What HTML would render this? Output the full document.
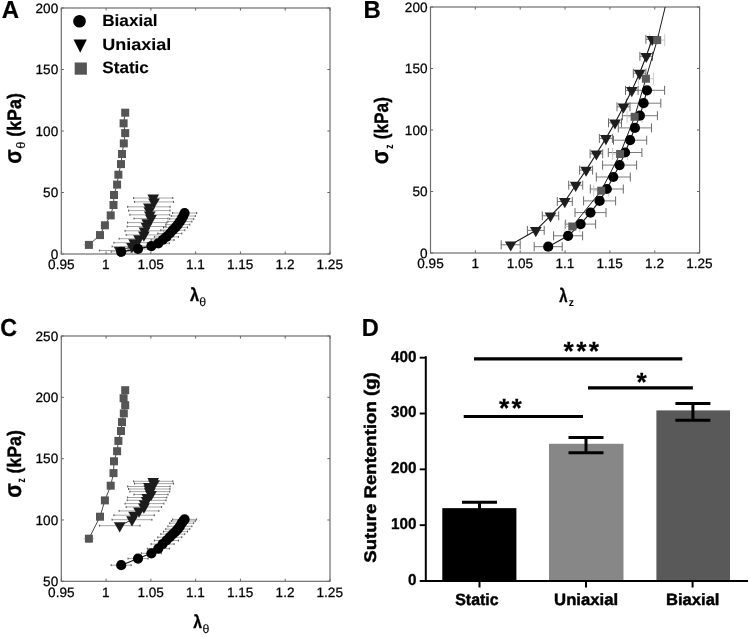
<!DOCTYPE html>
<html><head><meta charset="utf-8"><style>
html,body{margin:0;padding:0;background:#fff;width:750px;height:638px;overflow:hidden}
svg{display:block;font-family:"Liberation Sans", sans-serif;will-change:transform}
text{font-family:"Liberation Sans", sans-serif;text-rendering:geometricPrecision}
</style></head><body>
<svg width="750" height="638" viewBox="0 0 750 638">
<rect width="750" height="638" fill="#fff"/>
<rect x="61.30" y="8.00" width="268.70" height="246.00" fill="none" stroke="#6e6e6e" stroke-width="1.2"/>
<line x1="61.30" y1="254.00" x2="61.30" y2="251.40" stroke="#666" stroke-width="1" />
<line x1="61.30" y1="8.00" x2="61.30" y2="10.60" stroke="#666" stroke-width="1" />
<text x="48.085" y="269.400" font-size="13.6" textLength="26.470" lengthAdjust="spacingAndGlyphs" fill="#000" stroke="#000" stroke-width="0.25" stroke-linejoin="round">0.95</text>
<line x1="106.08" y1="254.00" x2="106.08" y2="251.40" stroke="#666" stroke-width="1" />
<line x1="106.08" y1="8.00" x2="106.08" y2="10.60" stroke="#666" stroke-width="1" />
<text x="102.116" y="269.400" font-size="13.6" textLength="7.564" lengthAdjust="spacingAndGlyphs" fill="#000" stroke="#000" stroke-width="0.25" stroke-linejoin="round">1</text>
<line x1="150.87" y1="254.00" x2="150.87" y2="251.40" stroke="#666" stroke-width="1" />
<line x1="150.87" y1="8.00" x2="150.87" y2="10.60" stroke="#666" stroke-width="1" />
<text x="137.399" y="269.400" font-size="13.6" textLength="26.470" lengthAdjust="spacingAndGlyphs" fill="#000" stroke="#000" stroke-width="0.25" stroke-linejoin="round">1.05</text>
<line x1="195.65" y1="254.00" x2="195.65" y2="251.40" stroke="#666" stroke-width="1" />
<line x1="195.65" y1="8.00" x2="195.65" y2="10.60" stroke="#666" stroke-width="1" />
<text x="186.011" y="269.400" font-size="13.6" textLength="18.906" lengthAdjust="spacingAndGlyphs" fill="#000" stroke="#000" stroke-width="0.25" stroke-linejoin="round">1.1</text>
<line x1="240.43" y1="254.00" x2="240.43" y2="251.40" stroke="#666" stroke-width="1" />
<line x1="240.43" y1="8.00" x2="240.43" y2="10.60" stroke="#666" stroke-width="1" />
<text x="226.966" y="269.400" font-size="13.6" textLength="26.470" lengthAdjust="spacingAndGlyphs" fill="#000" stroke="#000" stroke-width="0.25" stroke-linejoin="round">1.15</text>
<line x1="285.22" y1="254.00" x2="285.22" y2="251.40" stroke="#666" stroke-width="1" />
<line x1="285.22" y1="8.00" x2="285.22" y2="10.60" stroke="#666" stroke-width="1" />
<text x="275.588" y="269.400" font-size="13.6" textLength="18.906" lengthAdjust="spacingAndGlyphs" fill="#000" stroke="#000" stroke-width="0.25" stroke-linejoin="round">1.2</text>
<line x1="330.00" y1="254.00" x2="330.00" y2="251.40" stroke="#666" stroke-width="1" />
<line x1="330.00" y1="8.00" x2="330.00" y2="10.60" stroke="#666" stroke-width="1" />
<text x="316.533" y="269.400" font-size="13.6" textLength="26.470" lengthAdjust="spacingAndGlyphs" fill="#000" stroke="#000" stroke-width="0.25" stroke-linejoin="round">1.25</text>
<line x1="61.30" y1="254.00" x2="63.90" y2="254.00" stroke="#666" stroke-width="1" />
<line x1="330.00" y1="254.00" x2="327.40" y2="254.00" stroke="#666" stroke-width="1" />
<text x="50.668" y="258.750" font-size="13.6" textLength="7.564" lengthAdjust="spacingAndGlyphs" fill="#000" stroke="#000" stroke-width="0.25" stroke-linejoin="round">0</text>
<line x1="61.30" y1="192.50" x2="63.90" y2="192.50" stroke="#666" stroke-width="1" />
<line x1="330.00" y1="192.50" x2="327.40" y2="192.50" stroke="#666" stroke-width="1" />
<text x="43.104" y="197.250" font-size="13.6" textLength="15.127" lengthAdjust="spacingAndGlyphs" fill="#000" stroke="#000" stroke-width="0.25" stroke-linejoin="round">50</text>
<line x1="61.30" y1="131.00" x2="63.90" y2="131.00" stroke="#666" stroke-width="1" />
<line x1="330.00" y1="131.00" x2="327.40" y2="131.00" stroke="#666" stroke-width="1" />
<text x="35.540" y="135.750" font-size="13.6" textLength="22.691" lengthAdjust="spacingAndGlyphs" fill="#000" stroke="#000" stroke-width="0.25" stroke-linejoin="round">100</text>
<line x1="61.30" y1="69.50" x2="63.90" y2="69.50" stroke="#666" stroke-width="1" />
<line x1="330.00" y1="69.50" x2="327.40" y2="69.50" stroke="#666" stroke-width="1" />
<text x="35.540" y="74.250" font-size="13.6" textLength="22.691" lengthAdjust="spacingAndGlyphs" fill="#000" stroke="#000" stroke-width="0.25" stroke-linejoin="round">150</text>
<line x1="61.30" y1="8.00" x2="63.90" y2="8.00" stroke="#666" stroke-width="1" />
<line x1="330.00" y1="8.00" x2="327.40" y2="8.00" stroke="#666" stroke-width="1" />
<text x="35.540" y="12.750" font-size="13.6" textLength="22.691" lengthAdjust="spacingAndGlyphs" fill="#000" stroke="#000" stroke-width="0.25" stroke-linejoin="round">200</text>
<line x1="83.40" y1="244.90" x2="94.40" y2="244.90" stroke="#c4c4c4" stroke-width="0.8" />
<line x1="133.60" y1="198.00" x2="172.80" y2="198.00" stroke="#9a9a9a" stroke-width="0.9" />
<line x1="133.60" y1="197.00" x2="133.60" y2="199.00" stroke="#444" stroke-width="0.9" />
<line x1="172.80" y1="197.00" x2="172.80" y2="199.00" stroke="#444" stroke-width="0.9" />
<line x1="134.50" y1="201.90" x2="173.50" y2="201.90" stroke="#9a9a9a" stroke-width="0.9" />
<line x1="134.50" y1="200.90" x2="134.50" y2="202.90" stroke="#444" stroke-width="0.9" />
<line x1="173.50" y1="200.90" x2="173.50" y2="202.90" stroke="#444" stroke-width="0.9" />
<line x1="127.70" y1="206.80" x2="170.10" y2="206.80" stroke="#9a9a9a" stroke-width="0.9" />
<line x1="127.70" y1="205.80" x2="127.70" y2="207.80" stroke="#444" stroke-width="0.9" />
<line x1="170.10" y1="205.80" x2="170.10" y2="207.80" stroke="#444" stroke-width="0.9" />
<line x1="128.60" y1="210.60" x2="170.00" y2="210.60" stroke="#9a9a9a" stroke-width="0.9" />
<line x1="128.60" y1="209.60" x2="128.60" y2="211.60" stroke="#444" stroke-width="0.9" />
<line x1="170.00" y1="209.60" x2="170.00" y2="211.60" stroke="#444" stroke-width="0.9" />
<line x1="129.90" y1="214.80" x2="169.70" y2="214.80" stroke="#9a9a9a" stroke-width="0.9" />
<line x1="129.90" y1="213.80" x2="129.90" y2="215.80" stroke="#444" stroke-width="0.9" />
<line x1="169.70" y1="213.80" x2="169.70" y2="215.80" stroke="#444" stroke-width="0.9" />
<line x1="134.00" y1="218.50" x2="168.00" y2="218.50" stroke="#9a9a9a" stroke-width="0.9" />
<line x1="134.00" y1="217.50" x2="134.00" y2="219.50" stroke="#444" stroke-width="0.9" />
<line x1="168.00" y1="217.50" x2="168.00" y2="219.50" stroke="#444" stroke-width="0.9" />
<line x1="127.60" y1="222.60" x2="166.80" y2="222.60" stroke="#9a9a9a" stroke-width="0.9" />
<line x1="127.60" y1="221.60" x2="127.60" y2="223.60" stroke="#444" stroke-width="0.9" />
<line x1="166.80" y1="221.60" x2="166.80" y2="223.60" stroke="#444" stroke-width="0.9" />
<line x1="127.20" y1="226.50" x2="166.00" y2="226.50" stroke="#9a9a9a" stroke-width="0.9" />
<line x1="127.20" y1="225.50" x2="127.20" y2="227.50" stroke="#444" stroke-width="0.9" />
<line x1="166.00" y1="225.50" x2="166.00" y2="227.50" stroke="#444" stroke-width="0.9" />
<line x1="125.10" y1="230.80" x2="163.90" y2="230.80" stroke="#9a9a9a" stroke-width="0.9" />
<line x1="125.10" y1="229.80" x2="125.10" y2="231.80" stroke="#444" stroke-width="0.9" />
<line x1="163.90" y1="229.80" x2="163.90" y2="231.80" stroke="#444" stroke-width="0.9" />
<line x1="126.20" y1="234.90" x2="161.60" y2="234.90" stroke="#9a9a9a" stroke-width="0.9" />
<line x1="126.20" y1="233.90" x2="126.20" y2="235.90" stroke="#444" stroke-width="0.9" />
<line x1="161.60" y1="233.90" x2="161.60" y2="235.90" stroke="#444" stroke-width="0.9" />
<line x1="119.10" y1="238.70" x2="158.90" y2="238.70" stroke="#9a9a9a" stroke-width="0.9" />
<line x1="119.10" y1="237.70" x2="119.10" y2="239.70" stroke="#444" stroke-width="0.9" />
<line x1="158.90" y1="237.70" x2="158.90" y2="239.70" stroke="#444" stroke-width="0.9" />
<line x1="113.90" y1="242.70" x2="154.30" y2="242.70" stroke="#9a9a9a" stroke-width="0.9" />
<line x1="113.90" y1="241.70" x2="113.90" y2="243.70" stroke="#444" stroke-width="0.9" />
<line x1="154.30" y1="241.70" x2="154.30" y2="243.70" stroke="#444" stroke-width="0.9" />
<line x1="112.10" y1="246.50" x2="151.90" y2="246.50" stroke="#9a9a9a" stroke-width="0.9" />
<line x1="112.10" y1="245.50" x2="112.10" y2="247.50" stroke="#444" stroke-width="0.9" />
<line x1="151.90" y1="245.50" x2="151.90" y2="247.50" stroke="#444" stroke-width="0.9" />
<line x1="99.40" y1="250.50" x2="140.00" y2="250.50" stroke="#9a9a9a" stroke-width="0.9" />
<line x1="99.40" y1="249.50" x2="99.40" y2="251.50" stroke="#444" stroke-width="0.9" />
<line x1="140.00" y1="249.50" x2="140.00" y2="251.50" stroke="#444" stroke-width="0.9" />
<line x1="111.20" y1="251.80" x2="131.20" y2="251.80" stroke="#9a9a9a" stroke-width="0.9" />
<line x1="111.20" y1="250.80" x2="111.20" y2="252.80" stroke="#444" stroke-width="0.9" />
<line x1="131.20" y1="250.80" x2="131.20" y2="252.80" stroke="#444" stroke-width="0.9" />
<line x1="128.00" y1="248.90" x2="148.00" y2="248.90" stroke="#9a9a9a" stroke-width="0.9" />
<line x1="128.00" y1="247.90" x2="128.00" y2="249.90" stroke="#444" stroke-width="0.9" />
<line x1="148.00" y1="247.90" x2="148.00" y2="249.90" stroke="#444" stroke-width="0.9" />
<line x1="141.40" y1="246.10" x2="161.40" y2="246.10" stroke="#9a9a9a" stroke-width="0.9" />
<line x1="141.40" y1="245.10" x2="141.40" y2="247.10" stroke="#444" stroke-width="0.9" />
<line x1="161.40" y1="245.10" x2="161.40" y2="247.10" stroke="#444" stroke-width="0.9" />
<line x1="147.30" y1="243.30" x2="169.30" y2="243.30" stroke="#9a9a9a" stroke-width="0.9" />
<line x1="147.30" y1="242.30" x2="147.30" y2="244.30" stroke="#444" stroke-width="0.9" />
<line x1="169.30" y1="242.30" x2="169.30" y2="244.30" stroke="#444" stroke-width="0.9" />
<line x1="151.10" y1="240.00" x2="174.10" y2="240.00" stroke="#9a9a9a" stroke-width="0.9" />
<line x1="151.10" y1="239.00" x2="151.10" y2="241.00" stroke="#444" stroke-width="0.9" />
<line x1="174.10" y1="239.00" x2="174.10" y2="241.00" stroke="#444" stroke-width="0.9" />
<line x1="154.40" y1="236.90" x2="178.40" y2="236.90" stroke="#9a9a9a" stroke-width="0.9" />
<line x1="154.40" y1="235.90" x2="154.40" y2="237.90" stroke="#444" stroke-width="0.9" />
<line x1="178.40" y1="235.90" x2="178.40" y2="237.90" stroke="#444" stroke-width="0.9" />
<line x1="157.80" y1="233.50" x2="181.80" y2="233.50" stroke="#9a9a9a" stroke-width="0.9" />
<line x1="157.80" y1="232.50" x2="157.80" y2="234.50" stroke="#444" stroke-width="0.9" />
<line x1="181.80" y1="232.50" x2="181.80" y2="234.50" stroke="#444" stroke-width="0.9" />
<line x1="160.80" y1="230.20" x2="184.80" y2="230.20" stroke="#9a9a9a" stroke-width="0.9" />
<line x1="160.80" y1="229.20" x2="160.80" y2="231.20" stroke="#444" stroke-width="0.9" />
<line x1="184.80" y1="229.20" x2="184.80" y2="231.20" stroke="#444" stroke-width="0.9" />
<line x1="163.50" y1="227.40" x2="187.50" y2="227.40" stroke="#9a9a9a" stroke-width="0.9" />
<line x1="163.50" y1="226.40" x2="163.50" y2="228.40" stroke="#444" stroke-width="0.9" />
<line x1="187.50" y1="226.40" x2="187.50" y2="228.40" stroke="#444" stroke-width="0.9" />
<line x1="165.80" y1="224.60" x2="189.80" y2="224.60" stroke="#9a9a9a" stroke-width="0.9" />
<line x1="165.80" y1="223.60" x2="165.80" y2="225.60" stroke="#444" stroke-width="0.9" />
<line x1="189.80" y1="223.60" x2="189.80" y2="225.60" stroke="#444" stroke-width="0.9" />
<line x1="167.90" y1="221.60" x2="191.90" y2="221.60" stroke="#9a9a9a" stroke-width="0.9" />
<line x1="167.90" y1="220.60" x2="167.90" y2="222.60" stroke="#444" stroke-width="0.9" />
<line x1="191.90" y1="220.60" x2="191.90" y2="222.60" stroke="#444" stroke-width="0.9" />
<line x1="169.70" y1="218.90" x2="193.70" y2="218.90" stroke="#9a9a9a" stroke-width="0.9" />
<line x1="169.70" y1="217.90" x2="169.70" y2="219.90" stroke="#444" stroke-width="0.9" />
<line x1="193.70" y1="217.90" x2="193.70" y2="219.90" stroke="#444" stroke-width="0.9" />
<line x1="171.30" y1="216.00" x2="195.30" y2="216.00" stroke="#9a9a9a" stroke-width="0.9" />
<line x1="171.30" y1="215.00" x2="171.30" y2="217.00" stroke="#444" stroke-width="0.9" />
<line x1="195.30" y1="215.00" x2="195.30" y2="217.00" stroke="#444" stroke-width="0.9" />
<line x1="172.60" y1="213.00" x2="196.60" y2="213.00" stroke="#9a9a9a" stroke-width="0.9" />
<line x1="172.60" y1="212.00" x2="172.60" y2="214.00" stroke="#444" stroke-width="0.9" />
<line x1="196.60" y1="212.00" x2="196.60" y2="214.00" stroke="#444" stroke-width="0.9" />
<polyline points="125.20,112.70 123.60,123.30 125.20,133.10 123.80,143.40 122.00,154.00 121.00,164.10 118.40,174.70 117.10,184.60 114.00,195.00 113.50,205.00 110.70,215.40 104.90,225.30 100.00,235.10 88.90,244.90" fill="none" stroke="#333" stroke-width="0.9" stroke-linejoin="round"/>
<polyline points="153.20,198.00 154.00,201.90 148.90,206.80 149.30,210.60 149.80,214.80 151.00,218.50 147.20,222.60 146.60,226.50 144.50,230.80 143.90,234.90 139.00,238.70 134.10,242.70 132.00,246.50 119.70,250.50" fill="none" stroke="#222" stroke-width="0.9" stroke-linejoin="round"/>
<polyline points="121.20,251.80 138.00,248.90 151.40,246.10 158.30,243.30 162.60,240.00 166.40,236.90 169.80,233.50 172.80,230.20 175.50,227.40 177.80,224.60 179.90,221.60 181.70,218.90 183.30,216.00 184.60,213.00" fill="none" stroke="#111" stroke-width="1.1" stroke-linejoin="round"/>
<rect x="121.20" y="108.70" width="8" height="8" fill="#555"/>
<rect x="119.60" y="119.30" width="8" height="8" fill="#555"/>
<rect x="121.20" y="129.10" width="8" height="8" fill="#555"/>
<rect x="119.80" y="139.40" width="8" height="8" fill="#555"/>
<rect x="118.00" y="150.00" width="8" height="8" fill="#555"/>
<rect x="117.00" y="160.10" width="8" height="8" fill="#555"/>
<rect x="114.40" y="170.70" width="8" height="8" fill="#555"/>
<rect x="113.10" y="180.60" width="8" height="8" fill="#555"/>
<rect x="110.00" y="191.00" width="8" height="8" fill="#555"/>
<rect x="109.50" y="201.00" width="8" height="8" fill="#555"/>
<rect x="106.70" y="211.40" width="8" height="8" fill="#555"/>
<rect x="100.90" y="221.30" width="8" height="8" fill="#555"/>
<rect x="96.00" y="231.10" width="8" height="8" fill="#555"/>
<rect x="84.90" y="240.90" width="8" height="8" fill="#555"/>
<path d="M147.35,194.62L159.05,194.62L153.20,204.75Z" fill="#1c1c1c"/>
<path d="M148.15,198.52L159.85,198.52L154.00,208.65Z" fill="#1c1c1c"/>
<path d="M143.05,203.42L154.75,203.42L148.90,213.55Z" fill="#1c1c1c"/>
<path d="M143.45,207.22L155.15,207.22L149.30,217.35Z" fill="#1c1c1c"/>
<path d="M143.95,211.42L155.65,211.42L149.80,221.55Z" fill="#1c1c1c"/>
<path d="M145.15,215.12L156.85,215.12L151.00,225.25Z" fill="#1c1c1c"/>
<path d="M141.35,219.22L153.05,219.22L147.20,229.35Z" fill="#1c1c1c"/>
<path d="M140.75,223.12L152.45,223.12L146.60,233.25Z" fill="#1c1c1c"/>
<path d="M138.65,227.42L150.35,227.42L144.50,237.55Z" fill="#1c1c1c"/>
<path d="M138.05,231.52L149.75,231.52L143.90,241.65Z" fill="#1c1c1c"/>
<path d="M133.15,235.32L144.85,235.32L139.00,245.45Z" fill="#1c1c1c"/>
<path d="M128.25,239.32L139.95,239.32L134.10,249.45Z" fill="#1c1c1c"/>
<path d="M126.15,243.12L137.85,243.12L132.00,253.25Z" fill="#1c1c1c"/>
<path d="M113.85,247.12L125.55,247.12L119.70,257.25Z" fill="#1c1c1c"/>
<circle cx="121.20" cy="251.80" r="5.1" fill="#000"/>
<circle cx="138.00" cy="248.90" r="5.1" fill="#000"/>
<circle cx="151.40" cy="246.10" r="5.1" fill="#000"/>
<circle cx="158.30" cy="243.30" r="5.1" fill="#000"/>
<circle cx="162.60" cy="240.00" r="5.1" fill="#000"/>
<circle cx="166.40" cy="236.90" r="5.1" fill="#000"/>
<circle cx="169.80" cy="233.50" r="5.1" fill="#000"/>
<circle cx="172.80" cy="230.20" r="5.1" fill="#000"/>
<circle cx="175.50" cy="227.40" r="5.1" fill="#000"/>
<circle cx="177.80" cy="224.60" r="5.1" fill="#000"/>
<circle cx="179.90" cy="221.60" r="5.1" fill="#000"/>
<circle cx="181.70" cy="218.90" r="5.1" fill="#000"/>
<circle cx="183.30" cy="216.00" r="5.1" fill="#000"/>
<circle cx="184.60" cy="213.00" r="5.1" fill="#000"/>
<circle cx="79.50" cy="21.20" r="6.3" fill="#000"/>
<path d="M73.55,39.57L86.85,39.57L80.20,52.87Z" fill="#000"/>
<rect x="74.70" y="62.50" width="12.2" height="12.2" fill="#555"/>
<text x="102.149" y="26.300" font-size="16.4" font-weight="bold" textLength="55.469" lengthAdjust="spacingAndGlyphs" fill="#000" stroke="#000" stroke-width="0.10" stroke-linejoin="round">Biaxial</text>
<text x="102.219" y="50.300" font-size="16.4" font-weight="bold" textLength="69.056" lengthAdjust="spacingAndGlyphs" fill="#000" stroke="#000" stroke-width="0.10" stroke-linejoin="round">Uniaxial</text>
<text x="102.307" y="73.200" font-size="16.4" font-weight="bold" textLength="46.594" lengthAdjust="spacingAndGlyphs" fill="#000" stroke="#000" stroke-width="0.10" stroke-linejoin="round">Static</text>
<text x="1.802" y="18.400" font-size="24.6" font-weight="bold" textLength="17.330" lengthAdjust="spacingAndGlyphs" fill="#000" stroke="#000" stroke-width="0.20" stroke-linejoin="round">A</text>
<text transform="translate(20.700,163.718) rotate(-90)" x="0" y="0" font-size="24.0" font-weight="bold" textLength="14.327" lengthAdjust="spacingAndGlyphs" fill="#000" stroke="#000" stroke-width="0.35" stroke-linejoin="round">σ</text>
<text transform="translate(24.700,148.675) rotate(-90)" x="0" y="0" font-size="12.4" textLength="7.249" lengthAdjust="spacingAndGlyphs" fill="#000" stroke="#000" stroke-width="0.10" stroke-linejoin="round">θ</text>
<text transform="translate(20.600,136.790) rotate(-90)" x="0" y="0" font-size="19.5" font-weight="bold" textLength="43.679" lengthAdjust="spacingAndGlyphs" fill="#000" stroke="#000" stroke-width="0.35" stroke-linejoin="round">(kPa)</text>
<text x="189.928" y="301.000" font-size="18.3" font-weight="bold" textLength="9.120" lengthAdjust="spacingAndGlyphs" fill="#000" stroke="#000" stroke-width="0.35" stroke-linejoin="round">λ</text>
<text x="199.360" y="305.500" font-size="12.0" textLength="6.881" lengthAdjust="spacingAndGlyphs" fill="#000" stroke="#000" stroke-width="0.10" stroke-linejoin="round">θ</text>
<rect x="61.30" y="336.00" width="268.70" height="245.30" fill="none" stroke="#6e6e6e" stroke-width="1.2"/>
<line x1="61.30" y1="581.30" x2="61.30" y2="578.70" stroke="#666" stroke-width="1" />
<line x1="61.30" y1="336.00" x2="61.30" y2="338.60" stroke="#666" stroke-width="1" />
<text x="48.085" y="596.800" font-size="13.6" textLength="26.470" lengthAdjust="spacingAndGlyphs" fill="#000" stroke="#000" stroke-width="0.25" stroke-linejoin="round">0.95</text>
<line x1="106.08" y1="581.30" x2="106.08" y2="578.70" stroke="#666" stroke-width="1" />
<line x1="106.08" y1="336.00" x2="106.08" y2="338.60" stroke="#666" stroke-width="1" />
<text x="102.116" y="596.800" font-size="13.6" textLength="7.564" lengthAdjust="spacingAndGlyphs" fill="#000" stroke="#000" stroke-width="0.25" stroke-linejoin="round">1</text>
<line x1="150.87" y1="581.30" x2="150.87" y2="578.70" stroke="#666" stroke-width="1" />
<line x1="150.87" y1="336.00" x2="150.87" y2="338.60" stroke="#666" stroke-width="1" />
<text x="137.399" y="596.800" font-size="13.6" textLength="26.470" lengthAdjust="spacingAndGlyphs" fill="#000" stroke="#000" stroke-width="0.25" stroke-linejoin="round">1.05</text>
<line x1="195.65" y1="581.30" x2="195.65" y2="578.70" stroke="#666" stroke-width="1" />
<line x1="195.65" y1="336.00" x2="195.65" y2="338.60" stroke="#666" stroke-width="1" />
<text x="186.011" y="596.800" font-size="13.6" textLength="18.906" lengthAdjust="spacingAndGlyphs" fill="#000" stroke="#000" stroke-width="0.25" stroke-linejoin="round">1.1</text>
<line x1="240.43" y1="581.30" x2="240.43" y2="578.70" stroke="#666" stroke-width="1" />
<line x1="240.43" y1="336.00" x2="240.43" y2="338.60" stroke="#666" stroke-width="1" />
<text x="226.966" y="596.800" font-size="13.6" textLength="26.470" lengthAdjust="spacingAndGlyphs" fill="#000" stroke="#000" stroke-width="0.25" stroke-linejoin="round">1.15</text>
<line x1="285.22" y1="581.30" x2="285.22" y2="578.70" stroke="#666" stroke-width="1" />
<line x1="285.22" y1="336.00" x2="285.22" y2="338.60" stroke="#666" stroke-width="1" />
<text x="275.588" y="596.800" font-size="13.6" textLength="18.906" lengthAdjust="spacingAndGlyphs" fill="#000" stroke="#000" stroke-width="0.25" stroke-linejoin="round">1.2</text>
<line x1="330.00" y1="581.30" x2="330.00" y2="578.70" stroke="#666" stroke-width="1" />
<line x1="330.00" y1="336.00" x2="330.00" y2="338.60" stroke="#666" stroke-width="1" />
<text x="316.533" y="596.800" font-size="13.6" textLength="26.470" lengthAdjust="spacingAndGlyphs" fill="#000" stroke="#000" stroke-width="0.25" stroke-linejoin="round">1.25</text>
<line x1="61.30" y1="581.30" x2="63.90" y2="581.30" stroke="#666" stroke-width="1" />
<line x1="330.00" y1="581.30" x2="327.40" y2="581.30" stroke="#666" stroke-width="1" />
<text x="43.104" y="586.050" font-size="13.6" textLength="15.127" lengthAdjust="spacingAndGlyphs" fill="#000" stroke="#000" stroke-width="0.25" stroke-linejoin="round">50</text>
<line x1="61.30" y1="519.97" x2="63.90" y2="519.97" stroke="#666" stroke-width="1" />
<line x1="330.00" y1="519.97" x2="327.40" y2="519.97" stroke="#666" stroke-width="1" />
<text x="35.540" y="524.725" font-size="13.6" textLength="22.691" lengthAdjust="spacingAndGlyphs" fill="#000" stroke="#000" stroke-width="0.25" stroke-linejoin="round">100</text>
<line x1="61.30" y1="458.65" x2="63.90" y2="458.65" stroke="#666" stroke-width="1" />
<line x1="330.00" y1="458.65" x2="327.40" y2="458.65" stroke="#666" stroke-width="1" />
<text x="35.540" y="463.400" font-size="13.6" textLength="22.691" lengthAdjust="spacingAndGlyphs" fill="#000" stroke="#000" stroke-width="0.25" stroke-linejoin="round">150</text>
<line x1="61.30" y1="397.32" x2="63.90" y2="397.32" stroke="#666" stroke-width="1" />
<line x1="330.00" y1="397.32" x2="327.40" y2="397.32" stroke="#666" stroke-width="1" />
<text x="35.540" y="402.075" font-size="13.6" textLength="22.691" lengthAdjust="spacingAndGlyphs" fill="#000" stroke="#000" stroke-width="0.25" stroke-linejoin="round">200</text>
<line x1="61.30" y1="336.00" x2="63.90" y2="336.00" stroke="#666" stroke-width="1" />
<line x1="330.00" y1="336.00" x2="327.40" y2="336.00" stroke="#666" stroke-width="1" />
<text x="35.540" y="340.750" font-size="13.6" textLength="22.691" lengthAdjust="spacingAndGlyphs" fill="#000" stroke="#000" stroke-width="0.25" stroke-linejoin="round">250</text>
<line x1="83.40" y1="538.70" x2="94.40" y2="538.70" stroke="#c4c4c4" stroke-width="0.8" />
<line x1="133.60" y1="481.30" x2="172.80" y2="481.30" stroke="#9a9a9a" stroke-width="0.9" />
<line x1="133.60" y1="480.30" x2="133.60" y2="482.30" stroke="#444" stroke-width="0.9" />
<line x1="172.80" y1="480.30" x2="172.80" y2="482.30" stroke="#444" stroke-width="0.9" />
<line x1="134.50" y1="483.60" x2="173.50" y2="483.60" stroke="#9a9a9a" stroke-width="0.9" />
<line x1="134.50" y1="482.60" x2="134.50" y2="484.60" stroke="#444" stroke-width="0.9" />
<line x1="173.50" y1="482.60" x2="173.50" y2="484.60" stroke="#444" stroke-width="0.9" />
<line x1="127.70" y1="486.50" x2="170.10" y2="486.50" stroke="#9a9a9a" stroke-width="0.9" />
<line x1="127.70" y1="485.50" x2="127.70" y2="487.50" stroke="#444" stroke-width="0.9" />
<line x1="170.10" y1="485.50" x2="170.10" y2="487.50" stroke="#444" stroke-width="0.9" />
<line x1="128.60" y1="489.00" x2="170.00" y2="489.00" stroke="#9a9a9a" stroke-width="0.9" />
<line x1="128.60" y1="488.00" x2="128.60" y2="490.00" stroke="#444" stroke-width="0.9" />
<line x1="170.00" y1="488.00" x2="170.00" y2="490.00" stroke="#444" stroke-width="0.9" />
<line x1="129.90" y1="491.60" x2="169.70" y2="491.60" stroke="#9a9a9a" stroke-width="0.9" />
<line x1="129.90" y1="490.60" x2="129.90" y2="492.60" stroke="#444" stroke-width="0.9" />
<line x1="169.70" y1="490.60" x2="169.70" y2="492.60" stroke="#444" stroke-width="0.9" />
<line x1="134.00" y1="494.50" x2="168.00" y2="494.50" stroke="#9a9a9a" stroke-width="0.9" />
<line x1="134.00" y1="493.50" x2="134.00" y2="495.50" stroke="#444" stroke-width="0.9" />
<line x1="168.00" y1="493.50" x2="168.00" y2="495.50" stroke="#444" stroke-width="0.9" />
<line x1="127.60" y1="497.50" x2="166.80" y2="497.50" stroke="#9a9a9a" stroke-width="0.9" />
<line x1="127.60" y1="496.50" x2="127.60" y2="498.50" stroke="#444" stroke-width="0.9" />
<line x1="166.80" y1="496.50" x2="166.80" y2="498.50" stroke="#444" stroke-width="0.9" />
<line x1="127.20" y1="500.30" x2="166.00" y2="500.30" stroke="#9a9a9a" stroke-width="0.9" />
<line x1="127.20" y1="499.30" x2="127.20" y2="501.30" stroke="#444" stroke-width="0.9" />
<line x1="166.00" y1="499.30" x2="166.00" y2="501.30" stroke="#444" stroke-width="0.9" />
<line x1="125.10" y1="503.60" x2="163.90" y2="503.60" stroke="#9a9a9a" stroke-width="0.9" />
<line x1="125.10" y1="502.60" x2="125.10" y2="504.60" stroke="#444" stroke-width="0.9" />
<line x1="163.90" y1="502.60" x2="163.90" y2="504.60" stroke="#444" stroke-width="0.9" />
<line x1="126.20" y1="507.00" x2="161.60" y2="507.00" stroke="#9a9a9a" stroke-width="0.9" />
<line x1="126.20" y1="506.00" x2="126.20" y2="508.00" stroke="#444" stroke-width="0.9" />
<line x1="161.60" y1="506.00" x2="161.60" y2="508.00" stroke="#444" stroke-width="0.9" />
<line x1="119.10" y1="510.90" x2="158.90" y2="510.90" stroke="#9a9a9a" stroke-width="0.9" />
<line x1="119.10" y1="509.90" x2="119.10" y2="511.90" stroke="#444" stroke-width="0.9" />
<line x1="158.90" y1="509.90" x2="158.90" y2="511.90" stroke="#444" stroke-width="0.9" />
<line x1="113.90" y1="515.20" x2="154.30" y2="515.20" stroke="#9a9a9a" stroke-width="0.9" />
<line x1="113.90" y1="514.20" x2="113.90" y2="516.20" stroke="#444" stroke-width="0.9" />
<line x1="154.30" y1="514.20" x2="154.30" y2="516.20" stroke="#444" stroke-width="0.9" />
<line x1="112.10" y1="519.70" x2="151.90" y2="519.70" stroke="#9a9a9a" stroke-width="0.9" />
<line x1="112.10" y1="518.70" x2="112.10" y2="520.70" stroke="#444" stroke-width="0.9" />
<line x1="151.90" y1="518.70" x2="151.90" y2="520.70" stroke="#444" stroke-width="0.9" />
<line x1="99.40" y1="525.70" x2="140.00" y2="525.70" stroke="#9a9a9a" stroke-width="0.9" />
<line x1="99.40" y1="524.70" x2="99.40" y2="526.70" stroke="#444" stroke-width="0.9" />
<line x1="140.00" y1="524.70" x2="140.00" y2="526.70" stroke="#444" stroke-width="0.9" />
<line x1="111.20" y1="565.20" x2="131.20" y2="565.20" stroke="#9a9a9a" stroke-width="0.9" />
<line x1="111.20" y1="564.20" x2="111.20" y2="566.20" stroke="#444" stroke-width="0.9" />
<line x1="131.20" y1="564.20" x2="131.20" y2="566.20" stroke="#444" stroke-width="0.9" />
<line x1="128.00" y1="558.60" x2="148.00" y2="558.60" stroke="#9a9a9a" stroke-width="0.9" />
<line x1="128.00" y1="557.60" x2="128.00" y2="559.60" stroke="#444" stroke-width="0.9" />
<line x1="148.00" y1="557.60" x2="148.00" y2="559.60" stroke="#444" stroke-width="0.9" />
<line x1="141.40" y1="553.30" x2="161.40" y2="553.30" stroke="#9a9a9a" stroke-width="0.9" />
<line x1="141.40" y1="552.30" x2="141.40" y2="554.30" stroke="#444" stroke-width="0.9" />
<line x1="161.40" y1="552.30" x2="161.40" y2="554.30" stroke="#444" stroke-width="0.9" />
<line x1="147.30" y1="548.60" x2="169.30" y2="548.60" stroke="#9a9a9a" stroke-width="0.9" />
<line x1="147.30" y1="547.60" x2="147.30" y2="549.60" stroke="#444" stroke-width="0.9" />
<line x1="169.30" y1="547.60" x2="169.30" y2="549.60" stroke="#444" stroke-width="0.9" />
<line x1="151.10" y1="544.10" x2="174.10" y2="544.10" stroke="#9a9a9a" stroke-width="0.9" />
<line x1="151.10" y1="543.10" x2="151.10" y2="545.10" stroke="#444" stroke-width="0.9" />
<line x1="174.10" y1="543.10" x2="174.10" y2="545.10" stroke="#444" stroke-width="0.9" />
<line x1="154.40" y1="540.50" x2="178.40" y2="540.50" stroke="#9a9a9a" stroke-width="0.9" />
<line x1="154.40" y1="539.50" x2="154.40" y2="541.50" stroke="#444" stroke-width="0.9" />
<line x1="178.40" y1="539.50" x2="178.40" y2="541.50" stroke="#444" stroke-width="0.9" />
<line x1="157.80" y1="537.20" x2="181.80" y2="537.20" stroke="#9a9a9a" stroke-width="0.9" />
<line x1="157.80" y1="536.20" x2="157.80" y2="538.20" stroke="#444" stroke-width="0.9" />
<line x1="181.80" y1="536.20" x2="181.80" y2="538.20" stroke="#444" stroke-width="0.9" />
<line x1="160.80" y1="534.10" x2="184.80" y2="534.10" stroke="#9a9a9a" stroke-width="0.9" />
<line x1="160.80" y1="533.10" x2="160.80" y2="535.10" stroke="#444" stroke-width="0.9" />
<line x1="184.80" y1="533.10" x2="184.80" y2="535.10" stroke="#444" stroke-width="0.9" />
<line x1="163.50" y1="531.60" x2="187.50" y2="531.60" stroke="#9a9a9a" stroke-width="0.9" />
<line x1="163.50" y1="530.60" x2="163.50" y2="532.60" stroke="#444" stroke-width="0.9" />
<line x1="187.50" y1="530.60" x2="187.50" y2="532.60" stroke="#444" stroke-width="0.9" />
<line x1="165.80" y1="529.10" x2="189.80" y2="529.10" stroke="#9a9a9a" stroke-width="0.9" />
<line x1="165.80" y1="528.10" x2="165.80" y2="530.10" stroke="#444" stroke-width="0.9" />
<line x1="189.80" y1="528.10" x2="189.80" y2="530.10" stroke="#444" stroke-width="0.9" />
<line x1="167.90" y1="526.30" x2="191.90" y2="526.30" stroke="#9a9a9a" stroke-width="0.9" />
<line x1="167.90" y1="525.30" x2="167.90" y2="527.30" stroke="#444" stroke-width="0.9" />
<line x1="191.90" y1="525.30" x2="191.90" y2="527.30" stroke="#444" stroke-width="0.9" />
<line x1="169.70" y1="523.20" x2="193.70" y2="523.20" stroke="#9a9a9a" stroke-width="0.9" />
<line x1="169.70" y1="522.20" x2="169.70" y2="524.20" stroke="#444" stroke-width="0.9" />
<line x1="193.70" y1="522.20" x2="193.70" y2="524.20" stroke="#444" stroke-width="0.9" />
<line x1="171.30" y1="521.00" x2="195.30" y2="521.00" stroke="#9a9a9a" stroke-width="0.9" />
<line x1="171.30" y1="520.00" x2="171.30" y2="522.00" stroke="#444" stroke-width="0.9" />
<line x1="195.30" y1="520.00" x2="195.30" y2="522.00" stroke="#444" stroke-width="0.9" />
<line x1="172.60" y1="519.40" x2="196.60" y2="519.40" stroke="#9a9a9a" stroke-width="0.9" />
<line x1="172.60" y1="518.40" x2="172.60" y2="520.40" stroke="#444" stroke-width="0.9" />
<line x1="196.60" y1="518.40" x2="196.60" y2="520.40" stroke="#444" stroke-width="0.9" />
<polyline points="125.20,390.20 123.60,398.20 125.20,405.20 123.80,413.40 122.00,422.10 121.00,431.00 118.40,440.90 117.10,451.20 114.00,461.30 113.50,473.10 110.70,485.70 104.90,500.40 100.00,516.70 88.90,538.70" fill="none" stroke="#333" stroke-width="0.9" stroke-linejoin="round"/>
<polyline points="153.20,481.30 154.00,483.60 148.90,486.50 149.30,489.00 149.80,491.60 151.00,494.50 147.20,497.50 146.60,500.30 144.50,503.60 143.90,507.00 139.00,510.90 134.10,515.20 132.00,519.70 119.70,525.70" fill="none" stroke="#222" stroke-width="0.9" stroke-linejoin="round"/>
<polyline points="121.20,565.20 138.00,558.60 151.40,553.30 158.30,548.60 162.60,544.10 166.40,540.50 169.80,537.20 172.80,534.10 175.50,531.60 177.80,529.10 179.90,526.30 181.70,523.20 183.30,521.00 184.60,519.40" fill="none" stroke="#111" stroke-width="1.1" stroke-linejoin="round"/>
<rect x="121.20" y="386.20" width="8" height="8" fill="#555"/>
<rect x="119.60" y="394.20" width="8" height="8" fill="#555"/>
<rect x="121.20" y="401.20" width="8" height="8" fill="#555"/>
<rect x="119.80" y="409.40" width="8" height="8" fill="#555"/>
<rect x="118.00" y="418.10" width="8" height="8" fill="#555"/>
<rect x="117.00" y="427.00" width="8" height="8" fill="#555"/>
<rect x="114.40" y="436.90" width="8" height="8" fill="#555"/>
<rect x="113.10" y="447.20" width="8" height="8" fill="#555"/>
<rect x="110.00" y="457.30" width="8" height="8" fill="#555"/>
<rect x="109.50" y="469.10" width="8" height="8" fill="#555"/>
<rect x="106.70" y="481.70" width="8" height="8" fill="#555"/>
<rect x="100.90" y="496.40" width="8" height="8" fill="#555"/>
<rect x="96.00" y="512.70" width="8" height="8" fill="#555"/>
<rect x="84.90" y="534.70" width="8" height="8" fill="#555"/>
<path d="M147.35,477.92L159.05,477.92L153.20,488.05Z" fill="#1c1c1c"/>
<path d="M148.15,480.22L159.85,480.22L154.00,490.35Z" fill="#1c1c1c"/>
<path d="M143.05,483.12L154.75,483.12L148.90,493.25Z" fill="#1c1c1c"/>
<path d="M143.45,485.62L155.15,485.62L149.30,495.75Z" fill="#1c1c1c"/>
<path d="M143.95,488.22L155.65,488.22L149.80,498.35Z" fill="#1c1c1c"/>
<path d="M145.15,491.12L156.85,491.12L151.00,501.25Z" fill="#1c1c1c"/>
<path d="M141.35,494.12L153.05,494.12L147.20,504.25Z" fill="#1c1c1c"/>
<path d="M140.75,496.92L152.45,496.92L146.60,507.05Z" fill="#1c1c1c"/>
<path d="M138.65,500.22L150.35,500.22L144.50,510.35Z" fill="#1c1c1c"/>
<path d="M138.05,503.62L149.75,503.62L143.90,513.75Z" fill="#1c1c1c"/>
<path d="M133.15,507.52L144.85,507.52L139.00,517.65Z" fill="#1c1c1c"/>
<path d="M128.25,511.82L139.95,511.82L134.10,521.95Z" fill="#1c1c1c"/>
<path d="M126.15,516.32L137.85,516.32L132.00,526.45Z" fill="#1c1c1c"/>
<path d="M113.85,522.32L125.55,522.32L119.70,532.45Z" fill="#1c1c1c"/>
<circle cx="121.20" cy="565.20" r="5.1" fill="#000"/>
<circle cx="138.00" cy="558.60" r="5.1" fill="#000"/>
<circle cx="151.40" cy="553.30" r="5.1" fill="#000"/>
<circle cx="158.30" cy="548.60" r="5.1" fill="#000"/>
<circle cx="162.60" cy="544.10" r="5.1" fill="#000"/>
<circle cx="166.40" cy="540.50" r="5.1" fill="#000"/>
<circle cx="169.80" cy="537.20" r="5.1" fill="#000"/>
<circle cx="172.80" cy="534.10" r="5.1" fill="#000"/>
<circle cx="175.50" cy="531.60" r="5.1" fill="#000"/>
<circle cx="177.80" cy="529.10" r="5.1" fill="#000"/>
<circle cx="179.90" cy="526.30" r="5.1" fill="#000"/>
<circle cx="181.70" cy="523.20" r="5.1" fill="#000"/>
<circle cx="183.30" cy="521.00" r="5.1" fill="#000"/>
<circle cx="184.60" cy="519.40" r="5.1" fill="#000"/>
<text x="0.246" y="335.800" font-size="24.6" font-weight="bold" textLength="16.789" lengthAdjust="spacingAndGlyphs" fill="#000" stroke="#000" stroke-width="0.20" stroke-linejoin="round">C</text>
<text transform="translate(21.200,497.824) rotate(-90)" x="0" y="0" font-size="24.0" font-weight="bold" textLength="14.437" lengthAdjust="spacingAndGlyphs" fill="#000" stroke="#000" stroke-width="0.35" stroke-linejoin="round">σ</text>
<text transform="translate(25.400,482.540) rotate(-90)" x="0" y="0" font-size="11.8" font-weight="bold" textLength="4.247" lengthAdjust="spacingAndGlyphs" fill="#000">z</text>
<text transform="translate(20.600,473.481) rotate(-90)" x="0" y="0" font-size="19.5" font-weight="bold" textLength="43.262" lengthAdjust="spacingAndGlyphs" fill="#000" stroke="#000" stroke-width="0.35" stroke-linejoin="round">(kPa)</text>
<text x="193.131" y="628.000" font-size="18.3" font-weight="bold" textLength="8.706" lengthAdjust="spacingAndGlyphs" fill="#000" stroke="#000" stroke-width="0.35" stroke-linejoin="round">λ</text>
<text x="202.560" y="632.500" font-size="12.0" textLength="6.881" lengthAdjust="spacingAndGlyphs" fill="#000" stroke="#000" stroke-width="0.10" stroke-linejoin="round">θ</text>
<rect x="430.50" y="7.00" width="269.10" height="246.00" fill="none" stroke="#6e6e6e" stroke-width="1.2"/>
<line x1="430.50" y1="253.00" x2="430.50" y2="250.40" stroke="#666" stroke-width="1" />
<line x1="430.50" y1="7.00" x2="430.50" y2="9.60" stroke="#666" stroke-width="1" />
<text x="417.285" y="267.600" font-size="13.6" textLength="26.470" lengthAdjust="spacingAndGlyphs" fill="#000" stroke="#000" stroke-width="0.25" stroke-linejoin="round">0.95</text>
<line x1="475.35" y1="253.00" x2="475.35" y2="250.40" stroke="#666" stroke-width="1" />
<line x1="475.35" y1="7.00" x2="475.35" y2="9.60" stroke="#666" stroke-width="1" />
<text x="471.382" y="267.600" font-size="13.6" textLength="7.564" lengthAdjust="spacingAndGlyphs" fill="#000" stroke="#000" stroke-width="0.25" stroke-linejoin="round">1</text>
<line x1="520.20" y1="253.00" x2="520.20" y2="250.40" stroke="#666" stroke-width="1" />
<line x1="520.20" y1="7.00" x2="520.20" y2="9.60" stroke="#666" stroke-width="1" />
<text x="506.733" y="267.600" font-size="13.6" textLength="26.470" lengthAdjust="spacingAndGlyphs" fill="#000" stroke="#000" stroke-width="0.25" stroke-linejoin="round">1.05</text>
<line x1="565.05" y1="253.00" x2="565.05" y2="250.40" stroke="#666" stroke-width="1" />
<line x1="565.05" y1="7.00" x2="565.05" y2="9.60" stroke="#666" stroke-width="1" />
<text x="555.411" y="267.600" font-size="13.6" textLength="18.906" lengthAdjust="spacingAndGlyphs" fill="#000" stroke="#000" stroke-width="0.25" stroke-linejoin="round">1.1</text>
<line x1="609.90" y1="253.00" x2="609.90" y2="250.40" stroke="#666" stroke-width="1" />
<line x1="609.90" y1="7.00" x2="609.90" y2="9.60" stroke="#666" stroke-width="1" />
<text x="596.433" y="267.600" font-size="13.6" textLength="26.470" lengthAdjust="spacingAndGlyphs" fill="#000" stroke="#000" stroke-width="0.25" stroke-linejoin="round">1.15</text>
<line x1="654.75" y1="253.00" x2="654.75" y2="250.40" stroke="#666" stroke-width="1" />
<line x1="654.75" y1="7.00" x2="654.75" y2="9.60" stroke="#666" stroke-width="1" />
<text x="645.121" y="267.600" font-size="13.6" textLength="18.906" lengthAdjust="spacingAndGlyphs" fill="#000" stroke="#000" stroke-width="0.25" stroke-linejoin="round">1.2</text>
<line x1="699.60" y1="253.00" x2="699.60" y2="250.40" stroke="#666" stroke-width="1" />
<line x1="699.60" y1="7.00" x2="699.60" y2="9.60" stroke="#666" stroke-width="1" />
<text x="686.133" y="267.600" font-size="13.6" textLength="26.470" lengthAdjust="spacingAndGlyphs" fill="#000" stroke="#000" stroke-width="0.25" stroke-linejoin="round">1.25</text>
<line x1="430.50" y1="253.00" x2="433.10" y2="253.00" stroke="#666" stroke-width="1" />
<line x1="699.60" y1="253.00" x2="697.00" y2="253.00" stroke="#666" stroke-width="1" />
<text x="419.968" y="257.750" font-size="13.6" textLength="7.564" lengthAdjust="spacingAndGlyphs" fill="#000" stroke="#000" stroke-width="0.25" stroke-linejoin="round">0</text>
<line x1="430.50" y1="191.50" x2="433.10" y2="191.50" stroke="#666" stroke-width="1" />
<line x1="699.60" y1="191.50" x2="697.00" y2="191.50" stroke="#666" stroke-width="1" />
<text x="412.404" y="196.250" font-size="13.6" textLength="15.127" lengthAdjust="spacingAndGlyphs" fill="#000" stroke="#000" stroke-width="0.25" stroke-linejoin="round">50</text>
<line x1="430.50" y1="130.00" x2="433.10" y2="130.00" stroke="#666" stroke-width="1" />
<line x1="699.60" y1="130.00" x2="697.00" y2="130.00" stroke="#666" stroke-width="1" />
<text x="404.840" y="134.750" font-size="13.6" textLength="22.691" lengthAdjust="spacingAndGlyphs" fill="#000" stroke="#000" stroke-width="0.25" stroke-linejoin="round">100</text>
<line x1="430.50" y1="68.50" x2="433.10" y2="68.50" stroke="#666" stroke-width="1" />
<line x1="699.60" y1="68.50" x2="697.00" y2="68.50" stroke="#666" stroke-width="1" />
<text x="404.840" y="73.250" font-size="13.6" textLength="22.691" lengthAdjust="spacingAndGlyphs" fill="#000" stroke="#000" stroke-width="0.25" stroke-linejoin="round">150</text>
<line x1="430.50" y1="7.00" x2="433.10" y2="7.00" stroke="#666" stroke-width="1" />
<line x1="699.60" y1="7.00" x2="697.00" y2="7.00" stroke="#666" stroke-width="1" />
<text x="404.840" y="11.750" font-size="13.6" textLength="22.691" lengthAdjust="spacingAndGlyphs" fill="#000" stroke="#000" stroke-width="0.25" stroke-linejoin="round">200</text>
<line x1="501.20" y1="244.80" x2="520.20" y2="244.80" stroke="#7a7a7a" stroke-width="1.0" />
<line x1="501.20" y1="240.30" x2="501.20" y2="249.30" stroke="#6a6a6a" stroke-width="1.0" />
<line x1="520.20" y1="240.30" x2="520.20" y2="249.30" stroke="#6a6a6a" stroke-width="1.0" />
<line x1="527.40" y1="230.40" x2="544.20" y2="230.40" stroke="#7a7a7a" stroke-width="1.0" />
<line x1="527.40" y1="225.90" x2="527.40" y2="234.90" stroke="#6a6a6a" stroke-width="1.0" />
<line x1="544.20" y1="225.90" x2="544.20" y2="234.90" stroke="#6a6a6a" stroke-width="1.0" />
<line x1="542.30" y1="215.80" x2="558.70" y2="215.80" stroke="#7a7a7a" stroke-width="1.0" />
<line x1="542.30" y1="211.30" x2="542.30" y2="220.30" stroke="#6a6a6a" stroke-width="1.0" />
<line x1="558.70" y1="211.30" x2="558.70" y2="220.30" stroke="#6a6a6a" stroke-width="1.0" />
<line x1="557.30" y1="201.50" x2="572.30" y2="201.50" stroke="#7a7a7a" stroke-width="1.0" />
<line x1="557.30" y1="197.00" x2="557.30" y2="206.00" stroke="#6a6a6a" stroke-width="1.0" />
<line x1="572.30" y1="197.00" x2="572.30" y2="206.00" stroke="#6a6a6a" stroke-width="1.0" />
<line x1="568.70" y1="185.20" x2="582.70" y2="185.20" stroke="#7a7a7a" stroke-width="1.0" />
<line x1="568.70" y1="180.70" x2="568.70" y2="189.70" stroke="#6a6a6a" stroke-width="1.0" />
<line x1="582.70" y1="180.70" x2="582.70" y2="189.70" stroke="#6a6a6a" stroke-width="1.0" />
<line x1="579.60" y1="170.10" x2="592.60" y2="170.10" stroke="#7a7a7a" stroke-width="1.0" />
<line x1="579.60" y1="165.60" x2="579.60" y2="174.60" stroke="#6a6a6a" stroke-width="1.0" />
<line x1="592.60" y1="165.60" x2="592.60" y2="174.60" stroke="#6a6a6a" stroke-width="1.0" />
<line x1="590.10" y1="153.80" x2="602.70" y2="153.80" stroke="#7a7a7a" stroke-width="1.0" />
<line x1="590.10" y1="149.30" x2="590.10" y2="158.30" stroke="#6a6a6a" stroke-width="1.0" />
<line x1="602.70" y1="149.30" x2="602.70" y2="158.30" stroke="#6a6a6a" stroke-width="1.0" />
<line x1="599.40" y1="138.40" x2="612.40" y2="138.40" stroke="#7a7a7a" stroke-width="1.0" />
<line x1="599.40" y1="133.90" x2="599.40" y2="142.90" stroke="#6a6a6a" stroke-width="1.0" />
<line x1="612.40" y1="133.90" x2="612.40" y2="142.90" stroke="#6a6a6a" stroke-width="1.0" />
<line x1="608.50" y1="122.80" x2="621.50" y2="122.80" stroke="#7a7a7a" stroke-width="1.0" />
<line x1="608.50" y1="118.30" x2="608.50" y2="127.30" stroke="#6a6a6a" stroke-width="1.0" />
<line x1="621.50" y1="118.30" x2="621.50" y2="127.30" stroke="#6a6a6a" stroke-width="1.0" />
<line x1="617.00" y1="106.80" x2="630.00" y2="106.80" stroke="#7a7a7a" stroke-width="1.0" />
<line x1="617.00" y1="102.30" x2="617.00" y2="111.30" stroke="#6a6a6a" stroke-width="1.0" />
<line x1="630.00" y1="102.30" x2="630.00" y2="111.30" stroke="#6a6a6a" stroke-width="1.0" />
<line x1="625.50" y1="90.40" x2="638.10" y2="90.40" stroke="#7a7a7a" stroke-width="1.0" />
<line x1="625.50" y1="85.90" x2="625.50" y2="94.90" stroke="#6a6a6a" stroke-width="1.0" />
<line x1="638.10" y1="85.90" x2="638.10" y2="94.90" stroke="#6a6a6a" stroke-width="1.0" />
<line x1="633.30" y1="73.20" x2="645.90" y2="73.20" stroke="#7a7a7a" stroke-width="1.0" />
<line x1="633.30" y1="68.70" x2="633.30" y2="77.70" stroke="#6a6a6a" stroke-width="1.0" />
<line x1="645.90" y1="68.70" x2="645.90" y2="77.70" stroke="#6a6a6a" stroke-width="1.0" />
<line x1="639.90" y1="56.30" x2="652.50" y2="56.30" stroke="#7a7a7a" stroke-width="1.0" />
<line x1="639.90" y1="51.80" x2="639.90" y2="60.80" stroke="#6a6a6a" stroke-width="1.0" />
<line x1="652.50" y1="51.80" x2="652.50" y2="60.80" stroke="#6a6a6a" stroke-width="1.0" />
<line x1="645.90" y1="39.30" x2="658.50" y2="39.30" stroke="#7a7a7a" stroke-width="1.0" />
<line x1="645.90" y1="34.80" x2="645.90" y2="43.80" stroke="#6a6a6a" stroke-width="1.0" />
<line x1="658.50" y1="34.80" x2="658.50" y2="43.80" stroke="#6a6a6a" stroke-width="1.0" />
<line x1="534.20" y1="246.70" x2="562.20" y2="246.70" stroke="#7a7a7a" stroke-width="1.0" />
<line x1="534.20" y1="242.20" x2="534.20" y2="251.20" stroke="#6a6a6a" stroke-width="1.0" />
<line x1="562.20" y1="242.20" x2="562.20" y2="251.20" stroke="#6a6a6a" stroke-width="1.0" />
<line x1="553.60" y1="235.80" x2="582.60" y2="235.80" stroke="#7a7a7a" stroke-width="1.0" />
<line x1="553.60" y1="231.30" x2="553.60" y2="240.30" stroke="#6a6a6a" stroke-width="1.0" />
<line x1="582.60" y1="231.30" x2="582.60" y2="240.30" stroke="#6a6a6a" stroke-width="1.0" />
<line x1="565.60" y1="224.10" x2="595.60" y2="224.10" stroke="#7a7a7a" stroke-width="1.0" />
<line x1="565.60" y1="219.60" x2="565.60" y2="228.60" stroke="#6a6a6a" stroke-width="1.0" />
<line x1="595.60" y1="219.60" x2="595.60" y2="228.60" stroke="#6a6a6a" stroke-width="1.0" />
<line x1="575.00" y1="212.60" x2="606.00" y2="212.60" stroke="#7a7a7a" stroke-width="1.0" />
<line x1="575.00" y1="208.10" x2="575.00" y2="217.10" stroke="#6a6a6a" stroke-width="1.0" />
<line x1="606.00" y1="208.10" x2="606.00" y2="217.10" stroke="#6a6a6a" stroke-width="1.0" />
<line x1="583.60" y1="200.90" x2="615.60" y2="200.90" stroke="#7a7a7a" stroke-width="1.0" />
<line x1="583.60" y1="196.40" x2="583.60" y2="205.40" stroke="#6a6a6a" stroke-width="1.0" />
<line x1="615.60" y1="196.40" x2="615.60" y2="205.40" stroke="#6a6a6a" stroke-width="1.0" />
<line x1="590.30" y1="189.00" x2="623.30" y2="189.00" stroke="#7a7a7a" stroke-width="1.0" />
<line x1="590.30" y1="184.50" x2="590.30" y2="193.50" stroke="#6a6a6a" stroke-width="1.0" />
<line x1="623.30" y1="184.50" x2="623.30" y2="193.50" stroke="#6a6a6a" stroke-width="1.0" />
<line x1="596.30" y1="177.00" x2="630.30" y2="177.00" stroke="#7a7a7a" stroke-width="1.0" />
<line x1="596.30" y1="172.50" x2="596.30" y2="181.50" stroke="#6a6a6a" stroke-width="1.0" />
<line x1="630.30" y1="172.50" x2="630.30" y2="181.50" stroke="#6a6a6a" stroke-width="1.0" />
<line x1="602.60" y1="165.10" x2="636.60" y2="165.10" stroke="#7a7a7a" stroke-width="1.0" />
<line x1="602.60" y1="160.60" x2="602.60" y2="169.60" stroke="#6a6a6a" stroke-width="1.0" />
<line x1="636.60" y1="160.60" x2="636.60" y2="169.60" stroke="#6a6a6a" stroke-width="1.0" />
<line x1="608.30" y1="152.50" x2="641.90" y2="152.50" stroke="#7a7a7a" stroke-width="1.0" />
<line x1="608.30" y1="148.00" x2="608.30" y2="157.00" stroke="#6a6a6a" stroke-width="1.0" />
<line x1="641.90" y1="148.00" x2="641.90" y2="157.00" stroke="#6a6a6a" stroke-width="1.0" />
<line x1="613.50" y1="140.20" x2="646.70" y2="140.20" stroke="#7a7a7a" stroke-width="1.0" />
<line x1="613.50" y1="135.70" x2="613.50" y2="144.70" stroke="#6a6a6a" stroke-width="1.0" />
<line x1="646.70" y1="135.70" x2="646.70" y2="144.70" stroke="#6a6a6a" stroke-width="1.0" />
<line x1="618.30" y1="127.90" x2="651.50" y2="127.90" stroke="#7a7a7a" stroke-width="1.0" />
<line x1="618.30" y1="123.40" x2="618.30" y2="132.40" stroke="#6a6a6a" stroke-width="1.0" />
<line x1="651.50" y1="123.40" x2="651.50" y2="132.40" stroke="#6a6a6a" stroke-width="1.0" />
<line x1="622.40" y1="115.70" x2="657.40" y2="115.70" stroke="#7a7a7a" stroke-width="1.0" />
<line x1="622.40" y1="111.20" x2="622.40" y2="120.20" stroke="#6a6a6a" stroke-width="1.0" />
<line x1="657.40" y1="111.20" x2="657.40" y2="120.20" stroke="#6a6a6a" stroke-width="1.0" />
<line x1="626.40" y1="103.20" x2="660.80" y2="103.20" stroke="#7a7a7a" stroke-width="1.0" />
<line x1="626.40" y1="98.70" x2="626.40" y2="107.70" stroke="#6a6a6a" stroke-width="1.0" />
<line x1="660.80" y1="98.70" x2="660.80" y2="107.70" stroke="#6a6a6a" stroke-width="1.0" />
<line x1="629.40" y1="90.30" x2="664.60" y2="90.30" stroke="#7a7a7a" stroke-width="1.0" />
<line x1="629.40" y1="85.80" x2="629.40" y2="94.80" stroke="#6a6a6a" stroke-width="1.0" />
<line x1="664.60" y1="85.80" x2="664.60" y2="94.80" stroke="#6a6a6a" stroke-width="1.0" />
<line x1="564.80" y1="226.50" x2="579.80" y2="226.50" stroke="#c4c4c4" stroke-width="0.9" />
<line x1="564.80" y1="220.50" x2="564.80" y2="232.50" stroke="#c4c4c4" stroke-width="0.9" />
<line x1="579.80" y1="220.50" x2="579.80" y2="232.50" stroke="#c4c4c4" stroke-width="0.9" />
<line x1="593.70" y1="190.70" x2="608.70" y2="190.70" stroke="#c4c4c4" stroke-width="0.9" />
<line x1="593.70" y1="184.70" x2="593.70" y2="196.70" stroke="#c4c4c4" stroke-width="0.9" />
<line x1="608.70" y1="184.70" x2="608.70" y2="196.70" stroke="#c4c4c4" stroke-width="0.9" />
<line x1="612.60" y1="154.00" x2="627.60" y2="154.00" stroke="#c4c4c4" stroke-width="0.9" />
<line x1="612.60" y1="148.00" x2="612.60" y2="160.00" stroke="#c4c4c4" stroke-width="0.9" />
<line x1="627.60" y1="148.00" x2="627.60" y2="160.00" stroke="#c4c4c4" stroke-width="0.9" />
<line x1="627.10" y1="116.80" x2="642.10" y2="116.80" stroke="#c4c4c4" stroke-width="0.9" />
<line x1="627.10" y1="110.80" x2="627.10" y2="122.80" stroke="#c4c4c4" stroke-width="0.9" />
<line x1="642.10" y1="110.80" x2="642.10" y2="122.80" stroke="#c4c4c4" stroke-width="0.9" />
<line x1="638.40" y1="78.70" x2="653.40" y2="78.70" stroke="#c4c4c4" stroke-width="0.9" />
<line x1="638.40" y1="72.70" x2="638.40" y2="84.70" stroke="#c4c4c4" stroke-width="0.9" />
<line x1="653.40" y1="72.70" x2="653.40" y2="84.70" stroke="#c4c4c4" stroke-width="0.9" />
<line x1="649.70" y1="40.10" x2="664.70" y2="40.10" stroke="#c4c4c4" stroke-width="0.9" />
<line x1="649.70" y1="34.10" x2="649.70" y2="46.10" stroke="#c4c4c4" stroke-width="0.9" />
<line x1="664.70" y1="34.10" x2="664.70" y2="46.10" stroke="#c4c4c4" stroke-width="0.9" />
<polyline points="510.70,244.80 535.80,230.40 550.50,215.80 564.80,201.50 575.70,185.20 586.10,170.10 596.40,153.80 605.90,138.40 615.00,122.80 623.50,106.80 631.80,90.40 639.60,73.20 646.20,56.30 652.20,39.30" fill="none" stroke="#1a1a1a" stroke-width="1.1" stroke-linejoin="round"/>
<polyline points="548.20,246.70 568.10,235.80 580.60,224.10 590.50,212.60 599.60,200.90 606.80,189.00 613.30,177.00 619.60,165.10 625.10,152.50 630.10,140.20 634.90,127.90 639.90,115.70 643.60,103.20 647.00,90.30" fill="none" stroke="#1a1a1a" stroke-width="1.1" stroke-linejoin="round"/>
<polyline points="572.30,226.50 601.20,190.70 620.10,154.00 634.60,116.80 645.90,78.70 657.20,40.10 665.20,7.00" fill="none" stroke="#1a1a1a" stroke-width="1.0" stroke-linejoin="round"/>
<path d="M504.85,241.42L516.55,241.42L510.70,251.55Z" fill="#1e1e1e"/>
<path d="M529.95,227.02L541.65,227.02L535.80,237.15Z" fill="#1e1e1e"/>
<path d="M544.65,212.42L556.35,212.42L550.50,222.55Z" fill="#1e1e1e"/>
<path d="M558.95,198.12L570.65,198.12L564.80,208.25Z" fill="#1e1e1e"/>
<path d="M569.85,181.82L581.55,181.82L575.70,191.95Z" fill="#1e1e1e"/>
<path d="M580.25,166.72L591.95,166.72L586.10,176.85Z" fill="#1e1e1e"/>
<path d="M590.55,150.42L602.25,150.42L596.40,160.55Z" fill="#1e1e1e"/>
<path d="M600.05,135.02L611.75,135.02L605.90,145.15Z" fill="#1e1e1e"/>
<path d="M609.15,119.42L620.85,119.42L615.00,129.55Z" fill="#1e1e1e"/>
<path d="M617.65,103.42L629.35,103.42L623.50,113.55Z" fill="#1e1e1e"/>
<path d="M625.95,87.02L637.65,87.02L631.80,97.15Z" fill="#1e1e1e"/>
<path d="M633.75,69.82L645.45,69.82L639.60,79.95Z" fill="#1e1e1e"/>
<path d="M640.35,52.92L652.05,52.92L646.20,63.05Z" fill="#1e1e1e"/>
<path d="M646.35,35.92L658.05,35.92L652.20,46.05Z" fill="#1e1e1e"/>
<circle cx="548.20" cy="246.70" r="5.1" fill="#000"/>
<circle cx="568.10" cy="235.80" r="5.1" fill="#000"/>
<circle cx="580.60" cy="224.10" r="5.1" fill="#000"/>
<circle cx="590.50" cy="212.60" r="5.1" fill="#000"/>
<circle cx="599.60" cy="200.90" r="5.1" fill="#000"/>
<circle cx="606.80" cy="189.00" r="5.1" fill="#000"/>
<circle cx="613.30" cy="177.00" r="5.1" fill="#000"/>
<circle cx="619.60" cy="165.10" r="5.1" fill="#000"/>
<circle cx="625.10" cy="152.50" r="5.1" fill="#000"/>
<circle cx="630.10" cy="140.20" r="5.1" fill="#000"/>
<circle cx="634.90" cy="127.90" r="5.1" fill="#000"/>
<circle cx="639.90" cy="115.70" r="5.1" fill="#000"/>
<circle cx="643.60" cy="103.20" r="5.1" fill="#000"/>
<circle cx="647.00" cy="90.30" r="5.1" fill="#000"/>
<rect x="568.30" y="222.50" width="8" height="8" fill="#5a5a5a"/>
<rect x="597.20" y="186.70" width="8" height="8" fill="#5a5a5a"/>
<rect x="616.10" y="150.00" width="8" height="8" fill="#5a5a5a"/>
<rect x="630.60" y="112.80" width="8" height="8" fill="#5a5a5a"/>
<rect x="641.90" y="74.70" width="8" height="8" fill="#5a5a5a"/>
<rect x="653.20" y="36.10" width="8" height="8" fill="#5a5a5a"/>
<text x="363.599" y="18.400" font-size="24.6" font-weight="bold" textLength="17.289" lengthAdjust="spacingAndGlyphs" fill="#000" stroke="#000" stroke-width="0.20" stroke-linejoin="round">B</text>
<text transform="translate(388.100,164.131) rotate(-90)" x="0" y="0" font-size="24.0" font-weight="bold" textLength="14.546" lengthAdjust="spacingAndGlyphs" fill="#000" stroke="#000" stroke-width="0.35" stroke-linejoin="round">σ</text>
<text transform="translate(392.600,148.840) rotate(-90)" x="0" y="0" font-size="11.8" font-weight="bold" textLength="4.247" lengthAdjust="spacingAndGlyphs" fill="#000">z</text>
<text transform="translate(388.200,139.362) rotate(-90)" x="0" y="0" font-size="19.5" font-weight="bold" textLength="42.324" lengthAdjust="spacingAndGlyphs" fill="#000" stroke="#000" stroke-width="0.35" stroke-linejoin="round">(kPa)</text>
<text x="559.134" y="302.200" font-size="19.0" font-weight="bold" textLength="8.291" lengthAdjust="spacingAndGlyphs" fill="#000" stroke="#000" stroke-width="0.35" stroke-linejoin="round">λ</text>
<text x="568.784" y="306.200" font-size="10.8" font-weight="bold" textLength="5.191" lengthAdjust="spacingAndGlyphs" fill="#000">z</text>
<rect x="442.3" y="508.15" width="74.1" height="72.85" fill="#000"/>
<rect x="549.0" y="443.78" width="74.5" height="137.22" fill="#878787"/>
<rect x="656.4" y="410.40" width="73.6" height="170.60" fill="#595959"/>
<line x1="479.50" y1="502.20" x2="479.50" y2="510.00" stroke="#000" stroke-width="3" />
<line x1="462.00" y1="502.20" x2="497.00" y2="502.20" stroke="#000" stroke-width="3" />
<line x1="586.00" y1="452.80" x2="586.00" y2="437.60" stroke="#000" stroke-width="3" />
<line x1="568.50" y1="437.60" x2="603.50" y2="437.60" stroke="#000" stroke-width="3" />
<line x1="568.50" y1="452.80" x2="603.50" y2="452.80" stroke="#000" stroke-width="3" />
<line x1="692.90" y1="420.30" x2="692.90" y2="403.40" stroke="#000" stroke-width="3" />
<line x1="675.40" y1="403.40" x2="710.40" y2="403.40" stroke="#000" stroke-width="3" />
<line x1="675.40" y1="420.30" x2="710.40" y2="420.30" stroke="#000" stroke-width="3" />
<line x1="425.80" y1="356.20" x2="425.80" y2="582.00" stroke="#000" stroke-width="2.0" />
<line x1="424.80" y1="581.00" x2="748.00" y2="581.00" stroke="#000" stroke-width="2.1" />
<line x1="419.70" y1="581.00" x2="426.00" y2="581.00" stroke="#000" stroke-width="1.9" />
<text transform="translate(408.018,584.900) scale(1,1.0300)" x="0" y="0" font-size="15.3" font-weight="bold" textLength="8.509" lengthAdjust="spacingAndGlyphs" fill="#000" stroke="#000" stroke-width="0.30" stroke-linejoin="round">0</text>
<line x1="419.70" y1="525.17" x2="426.00" y2="525.17" stroke="#000" stroke-width="1.9" />
<text transform="translate(391.000,529.075) scale(1,1.0300)" x="0" y="0" font-size="15.3" font-weight="bold" textLength="25.527" lengthAdjust="spacingAndGlyphs" fill="#000" stroke="#000" stroke-width="0.30" stroke-linejoin="round">100</text>
<line x1="419.70" y1="469.35" x2="426.00" y2="469.35" stroke="#000" stroke-width="1.9" />
<text transform="translate(391.000,473.250) scale(1,1.0300)" x="0" y="0" font-size="15.3" font-weight="bold" textLength="25.527" lengthAdjust="spacingAndGlyphs" fill="#000" stroke="#000" stroke-width="0.30" stroke-linejoin="round">200</text>
<line x1="419.70" y1="413.52" x2="426.00" y2="413.52" stroke="#000" stroke-width="1.9" />
<text transform="translate(391.000,417.425) scale(1,1.0300)" x="0" y="0" font-size="15.3" font-weight="bold" textLength="25.527" lengthAdjust="spacingAndGlyphs" fill="#000" stroke="#000" stroke-width="0.30" stroke-linejoin="round">300</text>
<line x1="419.70" y1="357.70" x2="426.00" y2="357.70" stroke="#000" stroke-width="1.9" />
<text transform="translate(391.000,361.600) scale(1,1.0300)" x="0" y="0" font-size="15.3" font-weight="bold" textLength="25.527" lengthAdjust="spacingAndGlyphs" fill="#000" stroke="#000" stroke-width="0.30" stroke-linejoin="round">400</text>
<line x1="479.50" y1="581.00" x2="479.50" y2="587.50" stroke="#000" stroke-width="2.0" />
<line x1="586.00" y1="581.00" x2="586.00" y2="587.50" stroke="#000" stroke-width="2.0" />
<line x1="692.60" y1="581.00" x2="692.60" y2="587.50" stroke="#000" stroke-width="2.0" />
<text x="455.242" y="604.600" font-size="16.3" font-weight="bold" textLength="43.324" lengthAdjust="spacingAndGlyphs" fill="#000" stroke="#000" stroke-width="0.45" stroke-linejoin="round">Static</text>
<text x="554.098" y="604.600" font-size="16.3" font-weight="bold" textLength="63.983" lengthAdjust="spacingAndGlyphs" fill="#000" stroke="#000" stroke-width="0.45" stroke-linejoin="round">Uniaxial</text>
<text x="665.990" y="604.600" font-size="16.3" font-weight="bold" textLength="53.484" lengthAdjust="spacingAndGlyphs" fill="#000" stroke="#000" stroke-width="0.45" stroke-linejoin="round">Biaxial</text>
<text transform="translate(376.400,562.737) rotate(-90)" x="0" y="0" font-size="16.8" font-weight="bold" textLength="190.566" lengthAdjust="spacingAndGlyphs" fill="#000" stroke="#000" stroke-width="0.45" stroke-linejoin="round">Suture Rentention (g)</text>
<line x1="474.00" y1="358.80" x2="682.30" y2="358.80" stroke="#000" stroke-width="3.2" />
<line x1="588.00" y1="387.80" x2="692.90" y2="387.80" stroke="#000" stroke-width="3.2" />
<line x1="463.70" y1="416.50" x2="583.00" y2="416.50" stroke="#000" stroke-width="3.2" />
<text x="563.62" y="360.00" font-size="26.5" font-weight="bold" letter-spacing="2.24" stroke="#000" stroke-width="0.15">***</text>
<text x="636.52" y="390.60" font-size="26.5" font-weight="bold" letter-spacing="2.24" stroke="#000" stroke-width="0.15">*</text>
<text x="498.92" y="417.30" font-size="26.5" font-weight="bold" letter-spacing="2.24" stroke="#000" stroke-width="0.15">**</text>
<text x="361.718" y="335.700" font-size="24.6" font-weight="bold" textLength="17.074" lengthAdjust="spacingAndGlyphs" fill="#000" stroke="#000" stroke-width="0.20" stroke-linejoin="round">D</text>
</svg>
</body></html>
